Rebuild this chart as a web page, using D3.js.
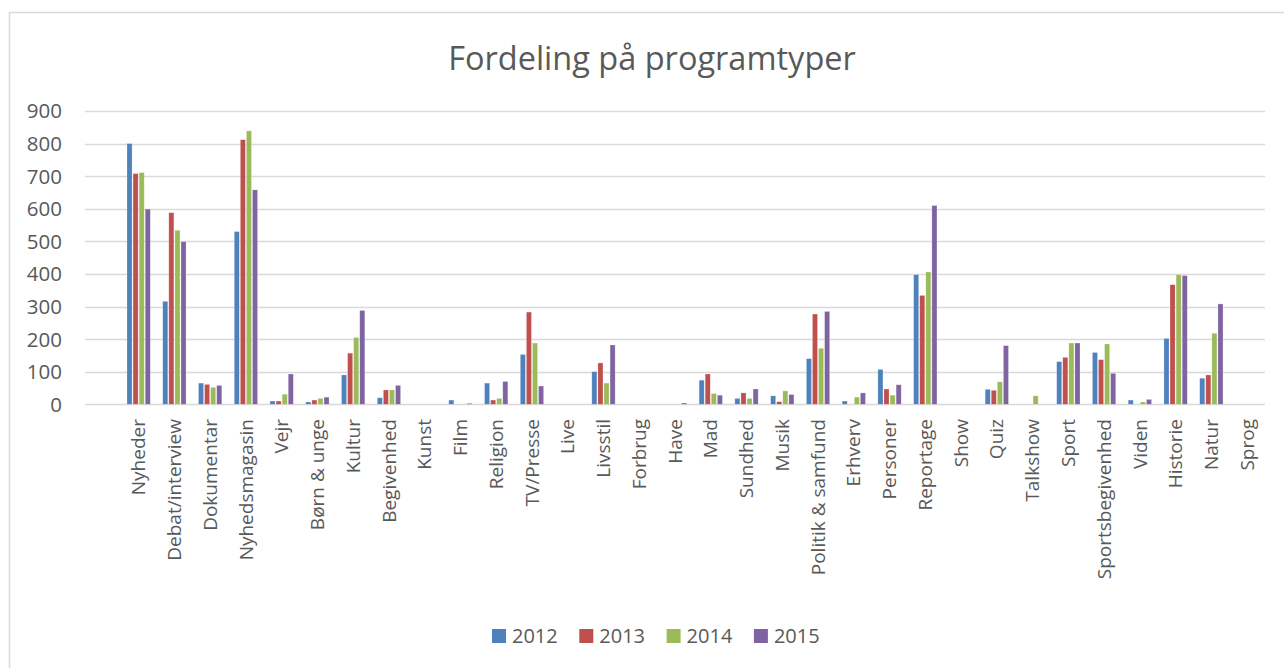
<!DOCTYPE html>
<html>
<head>
<meta charset="utf-8">
<script src="https://cdn.jsdelivr.net/npm/d3@7/dist/d3.min.js"></script>
<style>
  body { margin: 0; background: #fff; }
  text { font-family: "Open Sans", "Noto Sans", sans-serif; fill: #595959; }
</style>
</head>
<body>
<div id="chart"></div>
<script>
// categories (program types)
var categories = ["Nyheder", "Debat/interview", "Dokumentar", "Nyhedsmagasin", "Vejr", "Børn & unge",
  "Kultur", "Begivenhed", "Kunst", "Film", "Religion", "TV/Presse", "Live", "Livsstil", "Forbrug",
  "Have", "Mad", "Sundhed", "Musik", "Politik & samfund", "Erhverv", "Personer", "Reportage", "Show",
  "Quiz", "Talkshow", "Sport", "Sportsbegivenhed", "Viden", "Historie", "Natur", "Sprog"];

var years = ["2012", "2013", "2014", "2015"];

var v2012 = [800, 316, 65, 530, 10, 7, 90, 20, 0, 13, 65, 153, 0, 100, 0, 0, 74, 18, 26, 140, 10, 107, 398, 0, 46, 0, 131, 159, 13, 202, 80, 0];
var v2013 = [708, 588, 61, 812, 10, 13, 157, 44, 0, 0, 13, 283, 0, 127, 0, 0, 93, 35, 8, 277, 0, 47, 334, 0, 43, 0, 144, 137, 0, 367, 90, 0];
var v2014 = [711, 534, 52, 839, 31, 18, 205, 44, 0, 0, 18, 188, 0, 65, 0, 0, 33, 18, 41, 172, 22, 28, 406, 0, 69, 26, 188, 185, 7, 398, 218, 0];
var v2015 = [599, 499, 58, 658, 93, 22, 288, 58, 0, 3, 70, 56, 0, 182, 0, 4, 28, 47, 30, 285, 35, 60, 610, 0, 180, 0, 188, 95, 15, 395, 308, 0];

var yTicks = [0, 100, 200, 300, 400, 500, 600, 700, 800, 900];

var series = [v2012, v2013, v2014, v2015];
var colors = ["#4F81BD", "#C0504D", "#9BBB59", "#8064A2"];

var W = 1284, H = 668;
var plot = { left: 85, right: 1265, top: 111, bottom: 404.3 };

var svg = d3.select("#chart").append("svg")
  .attr("width", W)
  .attr("height", H);

// outer frame (runs off the right/bottom edge like the screenshot)
svg.append("rect")
  .attr("x", 9.5).attr("y", 12.5)
  .attr("width", W + 10).attr("height", H + 10)
  .attr("fill", "#fff")
  .attr("stroke", "#D9D9D9")
  .attr("stroke-width", 1.5);

// title
svg.append("text")
  .attr("x", 652).attr("y", 70)
  .attr("text-anchor", "middle")
  .style("font-size", "32.5px")
  .text("Fordeling på programtyper");

// x scale has one empty slot in front, as in the original sheet
var x0 = d3.scaleBand()
  .domain([""].concat(categories))
  .range([plot.left, plot.right])
  .paddingInner(0);

var groupW = x0.bandwidth() * 0.68;
var x1 = d3.scaleBand()
  .domain(years)
  .range([0, groupW]);

var y = d3.scaleLinear()
  .domain([0, 900])
  .range([plot.bottom, plot.top]);

// gridlines
svg.append("g")
  .selectAll("line")
  .data(yTicks)
  .enter().append("line")
  .attr("x1", plot.left).attr("x2", plot.right)
  .attr("y1", function (d) { return Math.round(y(d)) + 0.5; })
  .attr("y2", function (d) { return Math.round(y(d)) + 0.5; })
  .attr("stroke", "#D9D9D9")
  .attr("stroke-width", 1.3);

// y tick labels
svg.append("g")
  .selectAll("text")
  .data(yTicks)
  .enter().append("text")
  .attr("x", 62)
  .attr("y", function (d) { return y(d); })
  .attr("dy", "0.36em")
  .attr("text-anchor", "end")
  .style("font-size", "20.5px")
  .text(function (d) { return d; });

// bars
var groups = svg.append("g")
  .selectAll("g")
  .data(categories)
  .enter().append("g")
  .attr("transform", function (d) {
    return "translate(" + (x0(d) + (x0.bandwidth() - groupW) / 2) + ",0)";
  });

groups.selectAll("rect")
  .data(function (d, i) {
    return years.map(function (yr, k) { return { year: yr, k: k, value: series[k][i] }; });
  })
  .enter().append("rect")
  .filter(function (d) { return d.value > 0; })
  .attr("x", function (d) { return x1(d.year) + 0.5; })
  .attr("width", x1.bandwidth() - 1)
  .attr("y", function (d) { return y(d.value); })
  .attr("height", function (d) { return y(0) - y(d.value); })
  .attr("fill", function (d) { return colors[d.k]; })
  .attr("stroke", "#fff")
  .attr("stroke-opacity", 0.4)
  .attr("stroke-width", 0.6);

// category labels, rotated
svg.append("g")
  .selectAll("text")
  .data(categories)
  .enter().append("text")
  .attr("transform", function (d) {
    return "translate(" + (x0(d) + x0.bandwidth() / 2) + "," + 419 + ") rotate(-90)";
  })
  .attr("dy", "0.35em")
  .attr("text-anchor", "end")
  .style("font-size", "19px")
  .text(function (d) { return d; });

// legend
var legend = svg.append("g")
  .selectAll("g")
  .data(years)
  .enter().append("g")
  .attr("transform", function (d, i) { return "translate(" + (492 + i * 87.3) + ",629)"; });

legend.append("rect")
  .attr("width", 14).attr("height", 14)
  .attr("fill", function (d, i) { return colors[i]; });

legend.append("text")
  .attr("x", 20).attr("y", 7)
  .attr("dy", "0.36em")
  .style("font-size", "20px")
  .text(function (d) { return d; });
</script>
</body>
</html>
